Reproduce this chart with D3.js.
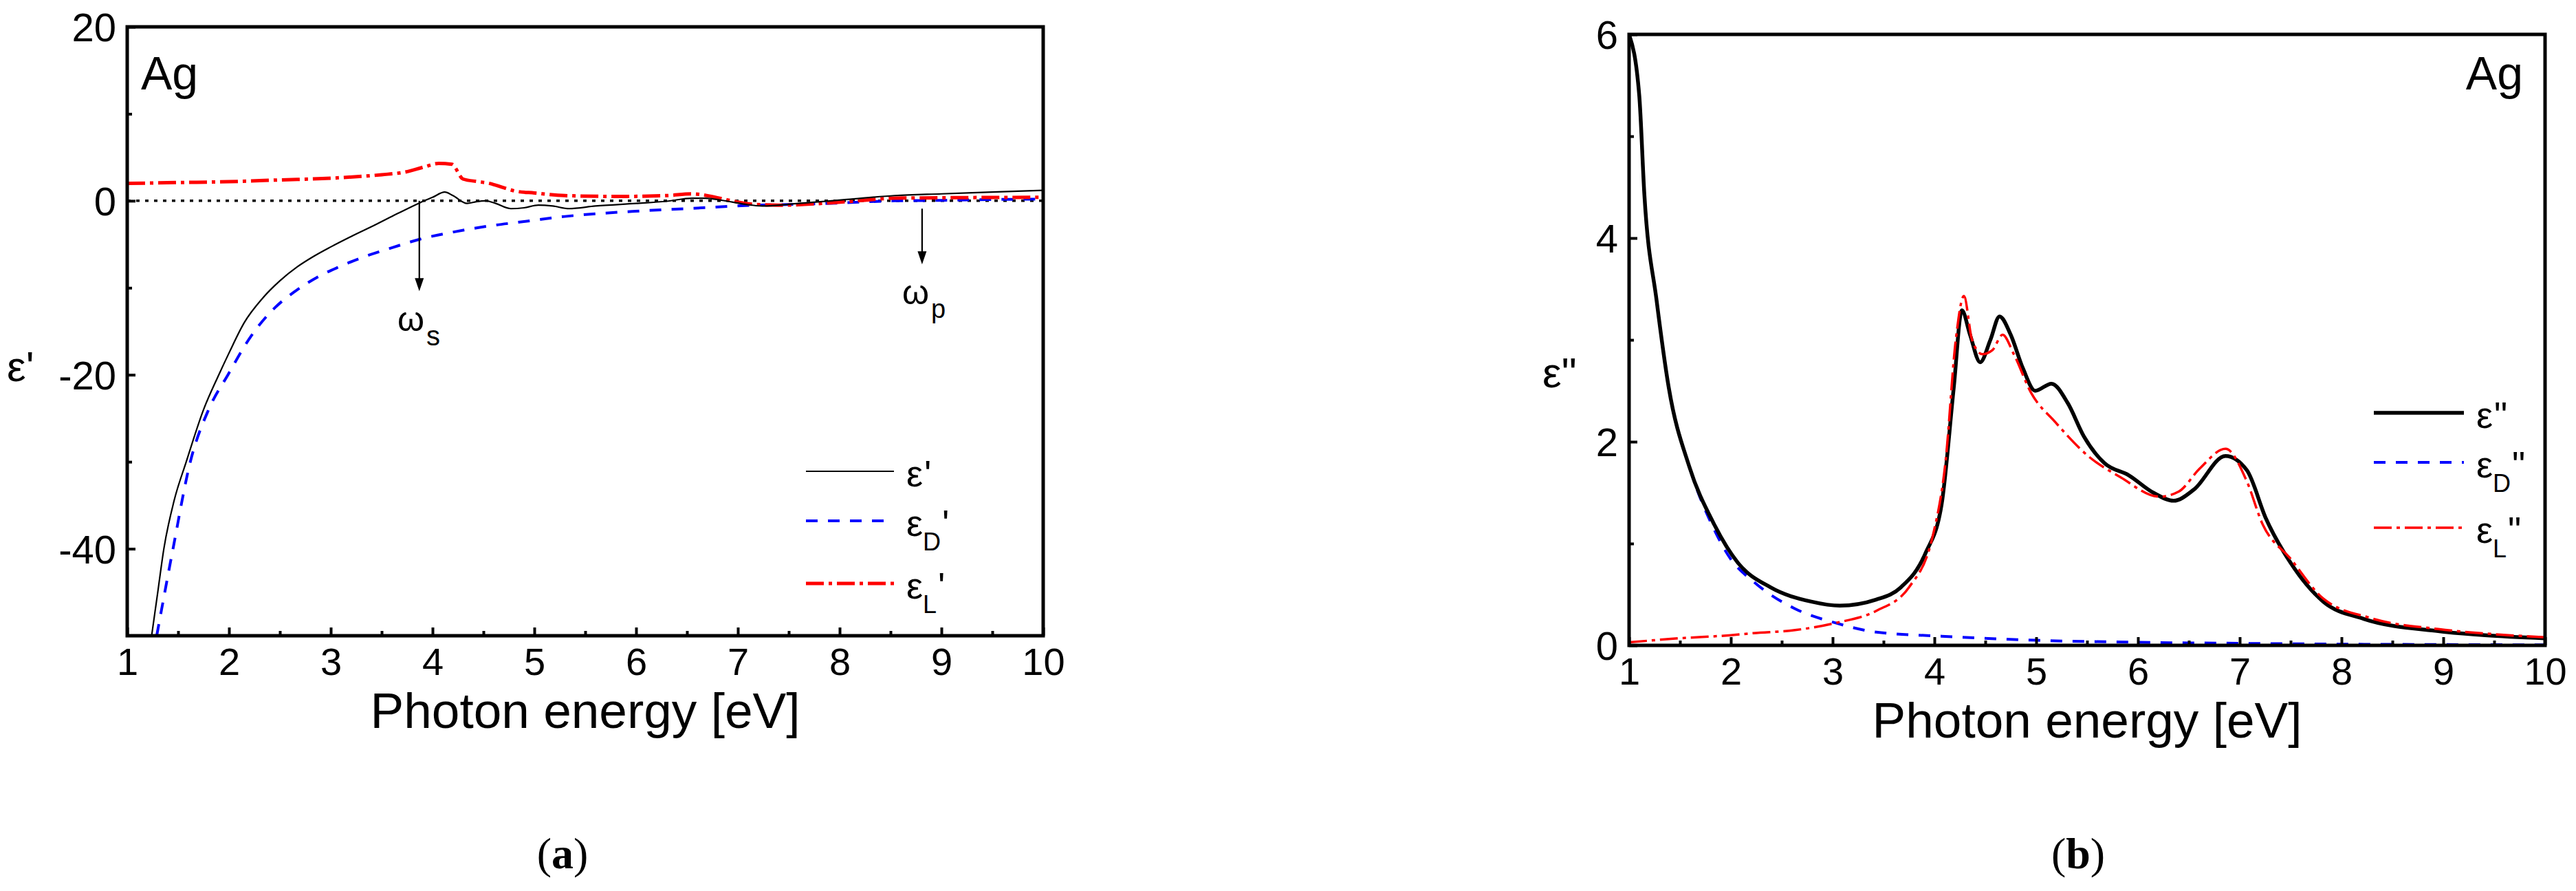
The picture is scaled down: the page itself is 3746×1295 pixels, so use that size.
<!DOCTYPE html>
<html>
<head>
<meta charset="utf-8">
<script src="https://cdn.jsdelivr.net/npm/d3@7"></script>
<style>
  body { margin: 0; background: #fff; }
  svg text { font-family: "Liberation Sans", Arial, sans-serif; fill: #000; }
</style>
</head>
<body>
<div id="chart"></div>
<script>
const width = 3746, height = 1295;

// ---- tick values ----
const xTicks = [1, 2, 3, 4, 5, 6, 7, 8, 9, 10];
const xMinor = [1.5, 2.5, 3.5, 4.5, 5.5, 6.5, 7.5, 8.5, 9.5];
const aYTicks = [20, 0, -20, -40];
const aYMinor = [10, -10, -30];
const bYTicks = [0, 2, 4, 6];
const bYMinor = [1, 3, 5];

// ---- panel (a): real part eps' ----
const aEpsX = [1.24, 1.30, 1.36, 1.46, 1.58, 1.75, 1.9, 2.0, 2.15, 2.33, 2.5, 2.67, 2.83, 3.0, 3.2, 3.43, 3.65, 3.88, 4.0, 4.12, 4.2, 4.34, 4.43, 4.52, 4.62, 4.77, 4.9, 5.04, 5.18, 5.34, 5.6, 6.0, 6.3, 6.55, 6.68, 6.85, 7.07, 7.24, 7.6, 8.07, 8.54, 9.0, 9.5, 10];
const aEpsY = [-50, -45, -40, -34.5, -30, -24, -20, -17.5, -14, -11.2, -9.2, -7.6, -6.4, -5.3, -4.1, -2.8, -1.5, -0.2, 0.4, 1.0, 0.6, -0.3, -0.1, 0.0, -0.3, -0.9, -0.8, -0.5, -0.6, -0.9, -0.6, -0.3, -0.05, 0.3, 0.3, 0.05, -0.4, -0.6, -0.3, 0.15, 0.6, 0.8, 1.0, 1.2];

const aDrudeX = [1.29, 1.45, 1.62, 1.8, 1.99, 2.22, 2.45, 2.65, 2.88, 3.08, 3.36, 3.6, 3.88, 4.2, 4.61, 4.82, 5.3, 5.99, 6.5, 7.19, 7.6, 8.0, 8.54, 9.0, 9.5, 10];
const aDrudeY = [-50, -40, -30, -24, -20, -15.5, -12.3, -10.4, -8.7, -7.6, -6.3, -5.4, -4.4, -3.6, -2.8, -2.5, -1.8, -1.2, -0.9, -0.5, -0.4, -0.25, 0.0, 0.05, 0.15, 0.2];

const aLorX = [1, 1.5, 2.0, 2.5, 3.0, 3.5, 3.73, 3.92, 4.06, 4.19, 4.3, 4.45, 4.56, 4.7, 4.82, 5.0, 5.3, 5.85, 6.3, 6.55, 6.72, 6.9, 7.15, 7.4, 8.07, 8.54, 9.0, 10];
const aLorY = [2.0, 2.1, 2.2, 2.4, 2.6, 3.0, 3.3, 3.9, 4.3, 4.2, 2.5, 2.2, 2.0, 1.5, 1.1, 0.9, 0.6, 0.5, 0.6, 0.8, 0.55, 0.1, -0.4, -0.5, -0.1, 0.3, 0.35, 0.4];

// ---- panel (b): imaginary part eps'' ----
const bEpsX = [1.0, 1.1, 1.15, 1.27, 1.39, 1.59, 1.83, 2.07, 2.39, 2.79, 3.07, 3.43, 3.67, 3.91, 4.07, 4.19, 4.27, 4.35, 4.45, 4.55, 4.64, 4.75, 4.87, 4.99, 5.15, 5.31, 5.47, 5.67, 5.91, 6.15, 6.35, 6.55, 6.86, 7.07, 7.26, 7.5, 7.82, 8.22, 8.95, 9.41, 10];
const bEpsY = [6.0, 5.4, 4.43, 3.39, 2.53, 1.76, 1.2, 0.81, 0.57, 0.43, 0.39, 0.45, 0.57, 0.9, 1.38, 2.53, 3.29, 3.05, 2.78, 3.0, 3.23, 3.05, 2.72, 2.5, 2.57, 2.38, 2.05, 1.79, 1.67, 1.5, 1.42, 1.53, 1.86, 1.72, 1.24, 0.81, 0.43, 0.26, 0.14, 0.1, 0.07];

const bDrudeX = [1.0, 1.1, 1.15, 1.27, 1.39, 1.59, 1.83, 1.99, 2.23, 2.63, 3.03, 3.43, 4.07, 5.0, 6.0, 7.0, 8.0, 9.0, 10];
const bDrudeY = [6.0, 5.4, 4.43, 3.39, 2.53, 1.76, 1.15, 0.86, 0.62, 0.36, 0.22, 0.13, 0.09, 0.05, 0.03, 0.02, 0.012, 0.008, 0.005];

const bLorX = [1.0, 1.5, 2.0, 2.22, 2.63, 3.03, 3.43, 3.75, 3.99, 4.11, 4.21, 4.29, 4.37, 4.47, 4.57, 4.67, 4.78, 4.95, 5.19, 5.51, 5.83, 6.21, 6.4, 6.61, 6.86, 7.07, 7.22, 7.5, 7.82, 8.28, 8.95, 9.5, 10];
const bLorY = [0.03, 0.07, 0.1, 0.12, 0.15, 0.22, 0.34, 0.57, 1.1, 1.81, 3.0, 3.43, 3.0, 2.86, 2.9, 3.05, 2.86, 2.48, 2.19, 1.86, 1.65, 1.46, 1.51, 1.74, 1.93, 1.61, 1.2, 0.85, 0.46, 0.27, 0.16, 0.11, 0.08];

// annotation arrows in panel (a): [x, yStart, yEnd]
const omegaS = [3.87, 0, -10.4];
const omegaP = [8.81, -0.9, -7.3];

const svg = d3.select("#chart").append("svg")
    .attr("width", width)
    .attr("height", height);

const zip = (xs, ys) => xs.map((v, i) => [v, ys[i]]);
const plain = d => String(d);   // keep hyphen-minus like the original

function panel(box, yDomain, yTicks, yMinor, id) {
    const x = d3.scaleLinear().domain([1, 10]).range([box.left, box.right]);
    const y = d3.scaleLinear().domain(yDomain).range([box.bottom, box.top]);

    svg.append("clipPath").attr("id", id)
        .append("rect")
        .attr("x", box.left).attr("y", box.top)
        .attr("width", box.right - box.left).attr("height", box.bottom - box.top);

    const g = svg.append("g");
    const plot = g.append("g").attr("clip-path", `url(#${id})`);

    // axes with inward ticks, minor ticks unlabeled
    g.append("g")
        .attr("transform", `translate(0,${box.bottom})`)
        .call(d3.axisBottom(x).tickValues(xTicks).tickSize(-12).tickPadding(17).tickFormat(plain));
    g.append("g").attr("class", "minor")
        .attr("transform", `translate(0,${box.bottom})`)
        .call(d3.axisBottom(x).tickValues(xMinor).tickSize(-7));
    const ay = g.append("g")
        .attr("transform", `translate(${box.left},0)`)
        .call(d3.axisLeft(y).tickValues(yTicks).tickSize(-12).tickPadding(16).tickFormat(plain));
    g.append("g").attr("class", "minor")
        .attr("transform", `translate(${box.left},0)`)
        .call(d3.axisLeft(y).tickValues(yMinor).tickSize(-7));

    g.selectAll(".minor text").remove();
    g.selectAll(".domain").remove();
    g.selectAll(".tick line").attr("stroke", "#000").attr("stroke-width", 4);
    g.selectAll(".tick text").attr("font-size", 56).attr("font-family", "Liberation Sans, Arial, sans-serif");
    ay.selectAll(".tick text").attr("font-size", 58).attr("dy", "0.36em");

    return {x, y, g, plot, box};
}

function frame(p) {
    p.g.append("rect")
        .attr("x", p.box.left).attr("y", p.box.top)
        .attr("width", p.box.right - p.box.left)
        .attr("height", p.box.bottom - p.box.top)
        .attr("fill", "none").attr("stroke", "#000").attr("stroke-width", 5);
}

function curve(p, data, color, w, dash) {
    const line = d3.line()
        .x(d => p.x(d[0]))
        .y(d => p.y(d[1]))
        .curve(d3.curveMonotoneX);
    p.plot.append("path")
        .attr("d", line(data))
        .attr("fill", "none")
        .attr("stroke", color)
        .attr("stroke-width", w)
        .attr("stroke-dasharray", dash)
        .attr("stroke-linejoin", "round");
}

function legend(g, x0, x1, items) {
    items.forEach(it => {
        g.append("line")
            .attr("x1", x0).attr("x2", x1)
            .attr("y1", it.y).attr("y2", it.y)
            .attr("stroke", it.color).attr("stroke-width", it.w)
            .attr("stroke-dasharray", it.dash);
        const t = g.append("text")
            .attr("x", x1 + 18).attr("y", it.y + 22)
            .attr("font-size", 54);
        t.append("tspan").text("ε");
        if (it.sub) {
            t.append("tspan").attr("font-size", 36).attr("dy", 21).text(it.sub);
            t.append("tspan").attr("font-size", 54).attr("dx", 2).attr("dy", -21).text(it.prime);
        } else {
            t.append("tspan").attr("font-size", 54).attr("dx", 2).text(it.prime);
        }
    });
}

const DASH = "17,15";
const DASHDOT = "26,7,5,7";

// ---------------- panel (a) ----------------
const pa = panel({left: 185, right: 1517, top: 39, bottom: 924}, [-50, 20], aYTicks, aYMinor, "clipA");

pa.plot.append("line")
    .attr("x1", pa.x(1)).attr("x2", pa.x(10))
    .attr("y1", pa.y(0)).attr("y2", pa.y(0))
    .attr("stroke", "#000").attr("stroke-width", 3.5)
    .attr("stroke-dasharray", "5,8");

curve(pa, zip(aDrudeX, aDrudeY), "#0000ff", 4, DASH);
curve(pa, zip(aLorX, aLorY), "#ff0000", 5, DASHDOT);
curve(pa, zip(aEpsX, aEpsY), "#000", 2.2, null);

[omegaS, omegaP].forEach(a => {
    const xa = pa.x(a[0]), y0 = pa.y(a[1]), y1 = pa.y(a[2]);
    pa.g.append("line")
        .attr("x1", xa).attr("x2", xa).attr("y1", y0).attr("y2", y1 - 16)
        .attr("stroke", "#000").attr("stroke-width", 2.2);
    pa.g.append("path")
        .attr("d", `M${xa - 6.5},${y1 - 19}L${xa + 6.5},${y1 - 19}L${xa},${y1}Z`)
        .attr("fill", "#000");
});

const ws = pa.g.append("text").attr("x", 578).attr("y", 481).attr("font-size", 50);
ws.append("tspan").text("ω");
ws.append("tspan").attr("font-size", 40).attr("dx", 3).attr("dy", 21).text("s");
const wp = pa.g.append("text").attr("x", 1312).attr("y", 442).attr("font-size", 50);
wp.append("tspan").text("ω");
wp.append("tspan").attr("font-size", 38).attr("dx", 3).attr("dy", 20).text("p");

pa.g.append("text").attr("x", 205).attr("y", 130).attr("font-size", 68).text("Ag");

legend(pa.g, 1172, 1300, [
    {y: 685, color: "#000", w: 2.2, dash: null, prime: "'"},
    {y: 757, color: "#0000ff", w: 4, dash: DASH, sub: "D", prime: "'"},
    {y: 848, color: "#ff0000", w: 5, dash: DASHDOT, sub: "L", prime: "'"}
]);

frame(pa);

pa.g.append("text").attr("x", (185 + 1517) / 2).attr("y", 1058)
    .attr("text-anchor", "middle").attr("font-size", 73).text("Photon energy [eV]");
pa.g.append("text").attr("x", 10).attr("y", 554).attr("font-size", 62).text("ε'");

// ---------------- panel (b) ----------------
const pb = panel({left: 2369, right: 3701, top: 50, bottom: 938}, [0, 6], bYTicks, bYMinor, "clipB");

curve(pb, zip(bDrudeX, bDrudeY), "#0000ff", 4, DASH);
curve(pb, zip(bEpsX, bEpsY), "#000", 5.5, null);
curve(pb, zip(bLorX, bLorY), "#ff0000", 3.5, DASHDOT);

pb.g.append("text").attr("x", 3669).attr("y", 130).attr("text-anchor", "end").attr("font-size", 68).text("Ag");

legend(pb.g, 3452, 3583, [
    {y: 600, color: "#000", w: 5.5, dash: null, prime: "\""},
    {y: 672, color: "#0000ff", w: 4, dash: DASH, sub: "D", prime: "\""},
    {y: 767, color: "#ff0000", w: 3.5, dash: DASHDOT, sub: "L", prime: "\""}
]);

frame(pb);

pb.g.append("text").attr("x", (2369 + 3701) / 2).attr("y", 1072)
    .attr("text-anchor", "middle").attr("font-size", 73).text("Photon energy [eV]");
pb.g.append("text").attr("x", 2243).attr("y", 563).attr("font-size", 62).text("ε\"");

// ---------------- captions ----------------
[["a", 818], ["b", 3022]].forEach(([lab, cx]) => {
    const t = svg.append("text").attr("x", cx).attr("y", 1262)
        .attr("text-anchor", "middle").attr("font-size", 64)
        .style("font-family", "Liberation Serif, Times New Roman, serif");
    t.append("tspan").text("(");
    t.append("tspan").attr("font-weight", "bold").text(lab);
    t.append("tspan").text(")");
});
</script>
</body>
</html>
